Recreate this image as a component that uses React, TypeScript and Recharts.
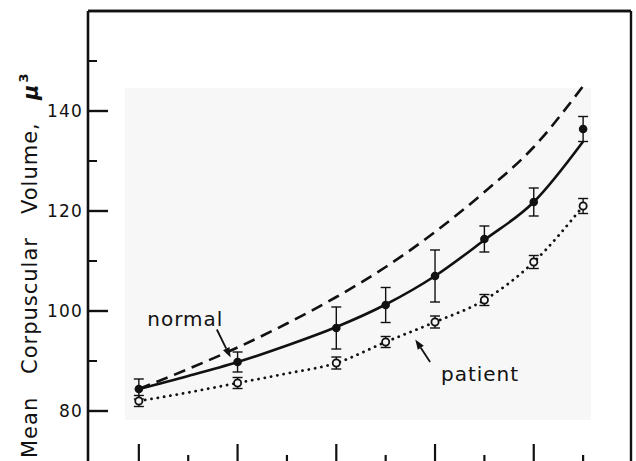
import React from "react";
import {
  ComposedChart,
  Line,
  Scatter,
  ErrorBar,
  XAxis,
  YAxis,
  ReferenceArea,
  ReferenceLine,
  ReferenceDot,
} from "recharts";

// ---- data ----
const xTicks = [0, 1, 2, 3, 4, 5, 6, 7, 8, 9];
const yTicks = [80, 90, 100, 110, 120, 130, 140, 150];
const yLabelTicks = [80, 100, 120, 140];

// measurement positions (x) and values
const measuredX = [0, 2, 4, 5, 6, 7, 8, 9];
const normalMean = [84.4, 89.8, 96.6, 101.2, 107.0, 114.4, 121.8, 136.4];
const normalErr = [2.0, 2.0, 4.2, 3.5, 5.2, 2.6, 2.8, 2.5];
const patientMean = [82.0, 85.6, 89.6, 93.8, 97.8, 102.2, 109.8, 121.0];
const patientErr = [1.1, 1.1, 1.2, 1.1, 1.2, 1.1, 1.3, 1.5];

// fitted / expected curves at every x tick
const normalCurve = [84.4, 87.0, 89.8, 93.1, 96.8, 101.3, 107.0, 114.2, 121.8, 133.9];
const expectedCurve = [84.4, 88.4, 92.7, 97.5, 102.8, 108.8, 115.8, 123.8, 132.8, 145.0];
const patientCurve = [82.0, 83.7, 85.6, 87.5, 89.6, 93.8, 97.8, 102.2, 109.8, 121.0];

// annotations (data coordinates)
const normalArrow = [
  { x: 1.58, y: 96.3 },
  { x: 1.86, y: 90.7 },
];
const patientArrow = [
  { x: 5.9, y: 89.8 },
  { x: 5.6, y: 94.3 },
];
const normalText = { x: 0.17, y: 97.1, text: "normal" };
const patientText = { x: 6.12, y: 86.1, text: "patient" };
const panel = { x1: -0.28, x2: 9.16, y1: 78.2, y2: 144.6 };

// ---- build tables ----
const curveRows = xTicks.map((x, i) => ({
  x,
  expected: expectedCurve[i],
  fit: normalCurve[i],
  patient: patientCurve[i],
}));
const normalPts = measuredX.map((x, i) => ({ x, y: normalMean[i], err: normalErr[i] }));
const patientPts = measuredX.map((x, i) => ({ x, y: patientMean[i], err: patientErr[i] }));

// ---- layout constants ----
const W = 636;
const H = 461;
const PLOT_LEFT = 88;
const PLOT_BOTTOM = 461;
const X_DOMAIN: [number, number] = [-1.03, 9.97];
const Y_DOMAIN: [number, number] = [70, 160];
const INK = "#111";
const FONT = "'DejaVu Sans', sans-serif";

const YTick = (props: any) => {
  const { y, payload } = props;
  const major = yLabelTicks.includes(payload.value);
  return (
    <g>
      <line
        x1={PLOT_LEFT}
        x2={PLOT_LEFT + (major ? 20 : 9)}
        y1={y}
        y2={y}
        stroke={INK}
        strokeWidth={major ? 2.4 : 2}
      />
      {major && (
        <text
          x={83}
          y={y}
          dy="0.36em"
          textAnchor="end"
          fontFamily={FONT}
          fontSize={17}
          letterSpacing={1.2}
          fill={INK}
        >
          {payload.value}
        </text>
      )}
    </g>
  );
};

const XTick = (props: any) => {
  const { x, payload } = props;
  const len = payload.value % 2 === 0 ? 17 : 6;
  return (
    <line x1={x} x2={x} y1={PLOT_BOTTOM} y2={PLOT_BOTTOM - len} stroke={INK} strokeWidth={2.2} />
  );
};

const Arrow = (props: any) => {
  const { x1, y1, x2, y2 } = props;
  const ang = Math.atan2(y2 - y1, x2 - x1);
  const L = 10;
  const Wd = 3.6;
  const bx = x2 - L * Math.cos(ang);
  const by = y2 - L * Math.sin(ang);
  const px = -Math.sin(ang) * Wd;
  const py = Math.cos(ang) * Wd;
  return (
    <g>
      <line x1={x1} y1={y1} x2={bx} y2={by} stroke={INK} strokeWidth={1.8} />
      <polygon
        points={`${x2},${y2} ${bx + px},${by + py} ${bx - px},${by - py}`}
        fill={INK}
      />
    </g>
  );
};

const makeText = (t: string) => (props: any) => (
  <text
    x={props.cx}
    y={props.cy}
    fontFamily={FONT}
    fontSize={20}
    letterSpacing={1}
    fill={INK}
  >
    {t}
  </text>
);

const FilledDot = (props: any) => <circle cx={props.cx} cy={props.cy} r={4.3} fill={INK} />;
const OpenDot = (props: any) => (
  <circle cx={props.cx} cy={props.cy} r={3.6} fill="#f6f6f6" stroke={INK} strokeWidth={1.8} />
);

const YLabel = () => (
  <text transform="rotate(-90)" fontFamily={FONT} fontSize={21} letterSpacing={1} fill={INK}>
    <tspan x={-458} y={37}>Mean</tspan>
    <tspan x={-374} y={37}>Corpuscular</tspan>
    <tspan x={-214} y={37}>Volume,</tspan>
    <tspan x={-100} y={38} fontWeight="bold" fontStyle="italic">μ</tspan>
    <tspan dy={-10} dx={1} fontSize={13} fontWeight="bold">3</tspan>
  </text>
);

export default function App() {
  return (
    <div
      style={{
        position: "absolute",
        top: 0,
        left: 0,
        width: W,
        height: H,
        overflow: "hidden",
        background: "#fff",
      }}
    >
      <ComposedChart
        width={W}
        height={H + 20}
        data={curveRows}
        margin={{ top: 0, right: 0, bottom: 0, left: 0 }}
      >
        <XAxis
          dataKey="x"
          type="number"
          domain={X_DOMAIN}
          ticks={xTicks}
          interval={0}
          tick={<XTick />}
          tickLine={false}
          axisLine={false}
          height={20}
          allowDataOverflow
        />
        <XAxis
          xAxisId="top"
          orientation="top"
          type="number"
          domain={X_DOMAIN}
          tick={false}
          tickLine={false}
          axisLine={{ stroke: INK, strokeWidth: 2.6 }}
          height={11}
          allowDataOverflow
        />
        <YAxis
          type="number"
          domain={Y_DOMAIN}
          ticks={yTicks}
          interval={0}
          tick={<YTick />}
          tickLine={false}
          axisLine={{ stroke: INK, strokeWidth: 2.6 }}
          width={PLOT_LEFT}
          allowDataOverflow
          label={{ content: () => <YLabel /> }}
        />
        <YAxis
          yAxisId="right"
          orientation="right"
          type="number"
          domain={Y_DOMAIN}
          tick={false}
          tickLine={false}
          axisLine={{ stroke: INK, strokeWidth: 2.2 }}
          width={5}
          allowDataOverflow
        />
        <ReferenceArea
          x1={panel.x1}
          x2={panel.x2}
          y1={panel.y1}
          y2={panel.y2}
          fill="#f7f7f7"
          fillOpacity={1}
          stroke="none"
        />
        <ReferenceLine y={Y_DOMAIN[1]} stroke={INK} strokeWidth={2.6} ifOverflow="visible" />
        <ReferenceLine x={X_DOMAIN[1]} stroke={INK} strokeWidth={2.2} ifOverflow="visible" />
        <Line
          dataKey="expected"
          type="monotone"
          stroke={INK}
          strokeWidth={2.6}
          strokeDasharray="12 7"
          dot={false}
          isAnimationActive={false}
        />
        <Line
          dataKey="fit"
          type="monotone"
          stroke={INK}
          strokeWidth={2.6}
          dot={false}
          isAnimationActive={false}
        />
        <Line
          dataKey="patient"
          type="monotone"
          stroke={INK}
          strokeWidth={2.8}
          strokeLinecap="round"
          strokeDasharray="0.1 6.3"
          dot={false}
          connectNulls
          isAnimationActive={false}
        />
        <Scatter data={normalPts} dataKey="y" shape={<FilledDot />} isAnimationActive={false}>
          <ErrorBar dataKey="err" direction="y" width={5} stroke={INK} strokeWidth={1.4} />
        </Scatter>
        <Scatter data={patientPts} dataKey="y" shape={<OpenDot />} isAnimationActive={false}>
          <ErrorBar dataKey="err" direction="y" width={5} stroke={INK} strokeWidth={1.4} />
        </Scatter>
        <ReferenceLine segment={normalArrow} shape={<Arrow />} ifOverflow="visible" />
        <ReferenceLine segment={patientArrow} shape={<Arrow />} ifOverflow="visible" />
        <ReferenceDot
          x={normalText.x}
          y={normalText.y}
          r={0}
          shape={makeText(normalText.text)}
          ifOverflow="visible"
        />
        <ReferenceDot
          x={patientText.x}
          y={patientText.y}
          r={0}
          shape={makeText(patientText.text)}
          ifOverflow="visible"
        />
      </ComposedChart>
    </div>
  );
}
